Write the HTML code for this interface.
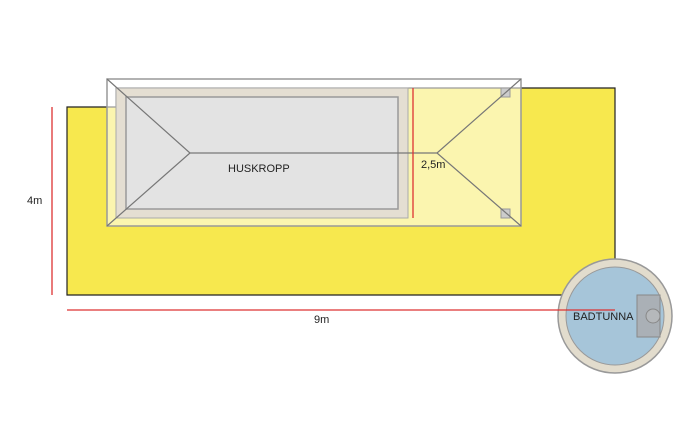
<!DOCTYPE html>
<html><head><style>body{margin:0;background:#fff}svg{display:block}text{font-family:"Liberation Sans",sans-serif;font-size:11px;fill:#222}</style></head><body>
<svg width="700" height="439" viewBox="0 0 700 439">
<polygon points="67,107 116,107 116,88 615,88 615,295 67,295" fill="#f7e84e" stroke="#222" stroke-width="1.2"/>
<rect x="107" y="79" width="414" height="147" fill="rgba(255,255,255,0.55)" stroke="#999" stroke-width="1.5"/>
<rect x="116" y="88" width="292" height="130" fill="#e4ded2" stroke="#aaa"/>
<rect x="126" y="97" width="272" height="112" fill="#e3e3e3" stroke="#999" stroke-width="1.5"/>
<rect x="501" y="88" width="9" height="9" fill="#ccc" stroke="#999"/>
<rect x="501" y="209" width="9" height="9" fill="#ccc" stroke="#999"/>
<g stroke="#777" stroke-width="1.2" fill="none">
<polyline points="107,79 190,153 107,226"/>
<polyline points="521,79 437,153 521,226"/>
<line x1="190" y1="153" x2="437" y2="153"/>
</g>
<g stroke="#d33" stroke-width="1.3">
<line x1="413" y1="88" x2="413" y2="218"/>
<line x1="52" y1="107" x2="52" y2="295"/>
</g>
<circle cx="615" cy="316" r="57" fill="#e2dccd" stroke="#999" stroke-width="1.5"/>
<circle cx="615" cy="316" r="49" fill="#a6c5d9" stroke="#999" stroke-width="1"/>
<rect x="637" y="295" width="23" height="42" fill="#aab0b6" stroke="#888"/>
<circle cx="653" cy="316" r="7" fill="#b5b8bb" stroke="#888"/>
<line x1="67" y1="310" x2="615" y2="310" stroke="#d33" stroke-width="1.3"/>
<text x="228" y="172">HUSKROPP</text>
<text x="421" y="168">2,5m</text>
<text x="27" y="204">4m</text>
<text x="314" y="323">9m</text>
<text x="573" y="320">BADTUNNA</text>
</svg>
</body></html>
